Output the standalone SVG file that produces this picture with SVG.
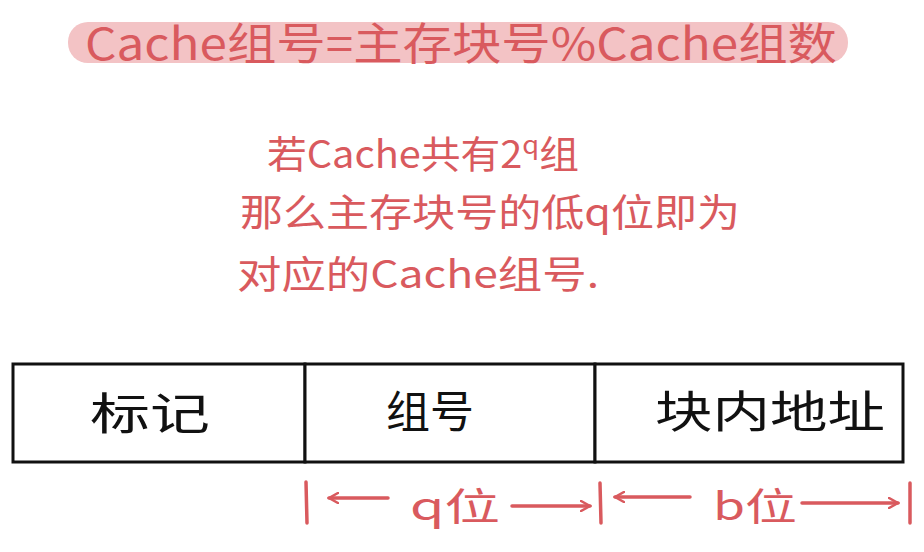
<svg xmlns="http://www.w3.org/2000/svg" width="924" height="552" viewBox="0 0 924 552">
<defs>
<style>
.red{fill:#d95a5e;font-family:"Noto Sans CJK SC","Noto Sans",sans-serif;}
.blk{fill:#111;font-family:"Noto Sans CJK SC","Noto Sans",sans-serif;font-size:44px;text-anchor:middle;}
.cell{fill:#fff;stroke:#111;stroke-width:3;}
.rl{stroke:#d95a5e;stroke-width:3.5;stroke-linecap:round;fill:none;}
</style>
<marker id="ah" viewBox="0 0 12 12" refX="10" refY="6" markerWidth="12" markerHeight="12" markerUnits="userSpaceOnUse" orient="auto-start-reverse">
<path d="M1,1 L10,6 L1,11" fill="none" stroke="#d95a5e" stroke-width="2.5" stroke-linecap="round"/>
</marker>
</defs>
<rect width="924" height="552" fill="#fff"/>
<g id="title">
<rect x="68" y="22" width="780" height="41" rx="20" fill="#f3c3c5"/>
<text class="red" x="85" y="60" font-size="44" textLength="752" lengthAdjust="spacingAndGlyphs">Cache组号=主存块号%Cache组数</text>
</g>
<g id="note">
<text class="red" x="267" y="168" font-size="38" textLength="312" lengthAdjust="spacingAndGlyphs">若Cache共有2<tspan font-size="26" dy="-14">q</tspan><tspan dy="14">组</tspan></text>
<text class="red" x="240" y="226" font-size="38" textLength="500" lengthAdjust="spacingAndGlyphs">那么主存块号的低q位即为</text>
<text class="red" x="237" y="288" font-size="38" textLength="362" lengthAdjust="spacingAndGlyphs">对应的Cache组号.</text>
</g>
<g id="cell-tag">
<rect class="cell" x="13" y="364" width="292" height="98"/>
<text class="blk" x="150" y="430" textLength="120" lengthAdjust="spacingAndGlyphs">标记</text>
</g>
<g id="cell-set">
<rect class="cell" x="305" y="364" width="290" height="98"/>
<text class="blk" x="430" y="428">组号</text>
</g>
<g id="cell-offset">
<rect class="cell" x="595" y="364" width="308" height="98"/>
<text class="blk" x="770" y="428" textLength="230" lengthAdjust="spacingAndGlyphs">块内地址</text>
</g>
<g id="connectors">
<line class="rl" x1="306" y1="482" x2="307" y2="523"/>
<line class="rl" x1="600" y1="483" x2="601" y2="523"/>
<line class="rl" x1="910" y1="483" x2="910" y2="523"/>
<line class="rl" x1="388" y1="498" x2="329" y2="498" marker-end="url(#ah)"/>
<line class="rl" x1="512" y1="506" x2="590" y2="506" marker-end="url(#ah)"/>
<line class="rl" x1="690" y1="497" x2="615" y2="497" marker-end="url(#ah)"/>
<line class="rl" x1="802" y1="503" x2="898" y2="503" marker-end="url(#ah)"/>
<text class="red" x="410" y="520" font-size="38" textLength="90" lengthAdjust="spacingAndGlyphs">q位</text>
<text class="red" x="713" y="520" font-size="38" textLength="84" lengthAdjust="spacingAndGlyphs">b位</text>
</g>
</svg>
